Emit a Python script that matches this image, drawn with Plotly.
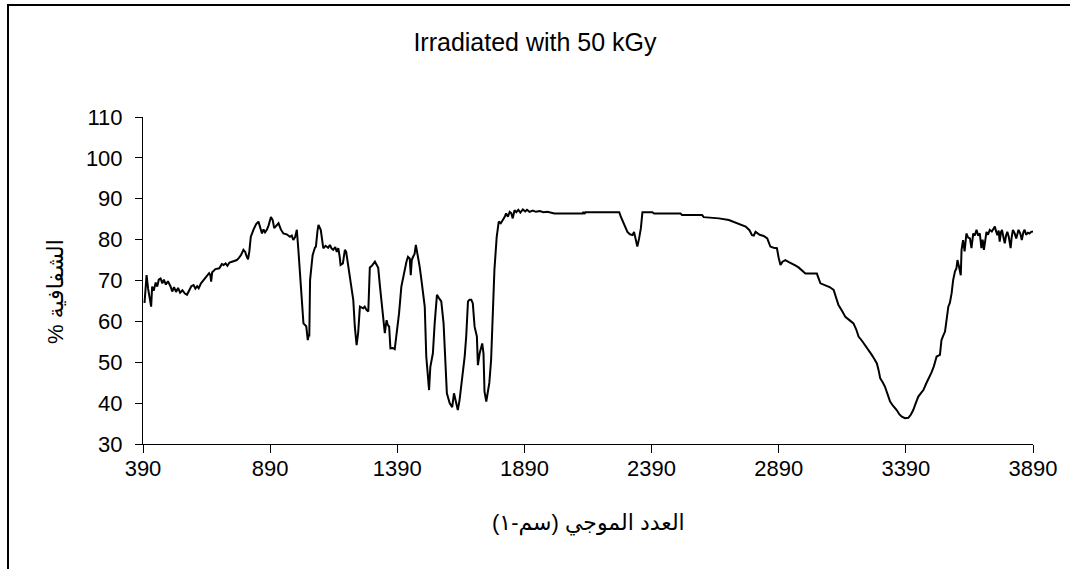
import plotly.graph_objects as go

# ---- data ----
wavenumber = [396, 400, 404, 410, 416, 422, 426, 432, 440, 446, 452, 459, 466, 472, 480, 488, 498, 505, 512, 520,
              528, 536, 545, 555, 563, 570, 580, 589, 596, 603, 609, 618, 628, 640, 650, 655, 658, 662, 675, 690,
              700, 707, 715, 722, 730, 740, 750, 759, 768, 776, 785, 792, 797, 803, 808, 814, 825, 835, 844, 852,
              858, 864, 870, 877, 884, 893, 900, 906, 914, 923, 932, 942, 955, 968, 975, 981, 988, 995, 1001, 1008,
              1014, 1021, 1032, 1038, 1042, 1044, 1047, 1057, 1066, 1070, 1076, 1080, 1089, 1095, 1099, 1108, 1118, 1125, 1132, 1138,
              1146, 1152, 1158, 1163, 1167, 1176, 1184, 1189, 1193, 1204, 1210, 1217, 1223, 1230, 1236, 1243, 1256, 1262, 1269, 1276,
              1282, 1290, 1302, 1308, 1315, 1322, 1328, 1335, 1341, 1345, 1348, 1352, 1358, 1363, 1372, 1380, 1387, 1397, 1406, 1413,
              1419, 1426, 1432, 1439, 1443, 1447, 1452, 1458, 1463, 1468, 1472, 1478, 1485, 1494, 1498, 1504, 1509, 1515, 1520, 1530,
              1537, 1546, 1554, 1563, 1572, 1580, 1585, 1596, 1606, 1613, 1619, 1628, 1635, 1646, 1655, 1661, 1668, 1674, 1681, 1687,
              1694, 1703, 1707, 1714, 1724, 1729, 1733, 1740, 1746, 1752, 1759, 1766, 1772, 1781, 1789, 1797, 1805, 1812, 1818, 1825,
              1832, 1838, 1844, 1851, 1858, 1866, 1874, 1884, 1893, 1900, 1910, 1923, 1935, 1950, 1965, 1980, 2008, 2060, 2119, 2122,
              2126, 2130, 2200, 2263, 2269, 2282, 2295, 2305, 2315, 2321, 2328, 2334, 2341, 2348, 2354, 2361, 2393, 2400, 2504, 2510,
              2589, 2595, 2655, 2694, 2727, 2760, 2775, 2785, 2792, 2799, 2815, 2831, 2845, 2851, 2857, 2870, 2883, 2890, 2897, 2905,
              2916, 2930, 2942, 2955, 2968, 2982, 2995, 3020, 3040, 3054, 3073, 3090, 3106, 3115, 3125, 3140, 3152, 3168, 3184, 3195,
              3204, 3218, 3230, 3243, 3256, 3266, 3276, 3283, 3289, 3300, 3308, 3318, 3328, 3340, 3354, 3364, 3374, 3387, 3400, 3410,
              3419, 3429, 3439, 3450, 3459, 3470, 3478, 3491, 3500, 3511, 3524, 3530, 3537, 3544, 3550, 3557, 3563, 3570, 3576, 3583,
              3589, 3593, 3599, 3606, 3609, 3615, 3621, 3628, 3635, 3642, 3648, 3655, 3661, 3668, 3674, 3681, 3687, 3692, 3697, 3702,
              3707, 3713, 3720, 3728, 3735, 3740, 3745, 3750, 3755, 3759, 3764, 3768, 3774, 3779, 3784, 3789, 3795, 3802, 3806, 3811,
              3818, 3824, 3828, 3833, 3840, 3846, 3852, 3857, 3863, 3870, 3876, 3883, 3890]

transmittance = [64.5, 68.0, 71.3, 68.0, 66.0, 63.6, 68.5, 67.5, 69.5, 68.5, 70.2, 70.5, 69.3, 70.2, 69.0, 69.8, 68.6, 67.3, 68.4, 67.2,
                 68.2, 67.0, 67.6, 66.8, 66.5, 67.3, 68.6, 68.9, 68.0, 68.6, 68.1, 69.3, 70.0, 71.0, 71.8, 71.3, 69.7, 72.0, 72.8, 73.0,
                 74.0, 73.8, 74.2, 73.6, 74.4, 74.6, 74.8, 75.0, 75.6, 76.3, 77.5, 77.0, 76.0, 75.2, 77.0, 80.7, 82.5, 83.8, 84.4, 83.0,
                 81.5, 82.5, 81.8, 82.4, 83.5, 85.5, 84.8, 82.8, 83.5, 84.0, 82.5, 81.5, 81.3, 80.7, 81.0, 79.9, 80.6, 82.4, 77.5, 72.0,
                 66.0, 59.5, 58.8, 55.4, 56.8, 56.3, 70.1, 76.2, 78.0, 78.3, 82.0, 83.6, 82.4, 80.0, 77.9, 78.5, 78.0, 78.7, 77.8, 77.5,
                 78.2, 77.0, 77.9, 76.0, 73.8, 74.2, 77.5, 77.0, 75.4, 70.9, 68.0, 65.2, 58.7, 54.2, 57.1, 63.6, 63.2, 63.6, 62.8, 62.4,
                 73.2, 73.6, 74.6, 74.0, 73.1, 68.5, 64.4, 60.5, 57.1, 59.0, 60.3, 59.2, 58.7, 53.4, 53.5, 53.2, 56.3, 62.0, 68.5, 71.0,
                 72.5, 74.6, 75.8, 75.4, 71.3, 75.0, 75.8, 76.5, 78.7, 77.0, 75.4, 73.4, 70.1, 64.4, 63.6, 51.4, 47.0, 43.2, 48.9, 52.2,
                 59.5, 66.5, 65.7, 64.9, 59.5, 48.9, 42.4, 40.0, 39.0, 42.4, 40.4, 38.3, 40.8, 46.1, 51.4, 56.3, 64.9, 65.3, 65.3, 64.4,
                 58.7, 56.3, 49.3, 52.2, 54.6, 52.2, 42.8, 40.4, 42.4, 45.0, 50.6, 60.3, 72.6, 80.7, 84.4, 84.0, 84.7, 85.5, 86.4, 85.6,
                 86.8, 86.5, 85.2, 87.2, 86.7, 87.3, 86.6, 87.4, 86.9, 87.3, 86.8, 87.1, 86.8, 87.0, 86.7, 86.8, 86.4, 86.4, 86.4, 86.8,
                 86.3, 86.7, 86.7, 86.7, 85.6, 83.6, 81.9, 81.3, 81.1, 81.9, 79.5, 78.3, 80.3, 82.8, 86.7, 86.7, 86.7, 86.4, 86.4, 86.0,
                 86.0, 85.5, 85.2, 84.8, 84.0, 83.2, 82.3, 81.1, 81.0, 81.9, 81.2, 80.9, 80.3, 79.5, 78.3, 78.0, 77.9, 75.5, 73.8, 74.6,
                 75.0, 74.5, 74.2, 73.7, 73.2, 72.5, 71.7, 71.7, 71.7, 69.3, 68.9, 68.4, 67.7, 66.0, 64.0, 62.5, 61.1, 60.3, 59.5, 58.0,
                 56.3, 55.2, 54.2, 53.0, 51.8, 50.8, 49.7, 48.0, 46.1, 45.0, 44.0, 42.2, 40.4, 39.3, 38.3, 37.3, 36.7, 36.3, 36.4, 37.2,
                 38.3, 40.0, 41.6, 42.5, 43.2, 44.8, 45.7, 47.5, 49.0, 51.4, 51.8, 55.4, 56.5, 57.5, 60.3, 63.6, 64.5, 66.9, 70.1, 72.2,
                 73.0, 75.0, 73.4, 71.3, 77.5, 79.9, 77.1, 81.5, 80.5, 80.3, 77.9, 81.5, 81.0, 82.4, 81.0, 81.5, 77.9, 80.0, 77.5, 80.5,
                 81.9, 81.2, 82.4, 82.0, 82.8, 83.2, 82.0, 81.1, 82.2, 79.5, 81.8, 82.4, 80.5, 79.1, 81.0, 81.9, 80.6, 77.9, 80.5, 82.4,
                 81.5, 80.3, 81.2, 82.4, 81.5, 79.9, 81.8, 82.4, 81.2, 81.7, 81.5, 81.9, 82.0]

x_ticks = [390, 890, 1390, 1890, 2390, 2890, 3390, 3890]
y_ticks = [30, 40, 50, 60, 70, 80, 90, 100, 110]

title_text = "Irradiated with 50 kGy"
x_title = "العدد الموجي (سم-١)"
y_title = "% الشفافية"

# ---- layout geometry (pixels) ----
W, H = 1070, 569
L, R, T, B = 143, 1033, 117, 444
FONT = "Liberation Sans, Arial, DejaVu Sans, sans-serif"


def px_x(p):
    return (p - L) / (R - L)


def px_y(p):
    return (B - p) / (B - T)


fig = go.Figure()
fig.add_trace(go.Scatter(x=wavenumber, y=transmittance, mode="lines",
                         line=dict(color="black", width=2), showlegend=False,
                         hoverinfo="x+y"))

fig.update_layout(
    width=W, height=H,
    margin=dict(l=L, r=W - R, t=T, b=H - B, pad=0),
    paper_bgcolor="white", plot_bgcolor="white",
    font=dict(family=FONT, color="black", size=22),
    title=dict(text=title_text, x=0.5, xref="container", xanchor="center",
               y=1 - 42 / H, yref="container", yanchor="middle",
               font=dict(family=FONT, size=25, color="black")),
    xaxis=dict(range=[390, 3890], tickmode="array", tickvals=x_ticks,
               ticktext=[str(v) for v in x_ticks],
               showgrid=False, zeroline=False, showline=True, linecolor="black", linewidth=1,
               ticks="outside", ticklen=8, tickcolor="black", tickwidth=1,
               ticklabelstandoff=-3,
               tickfont=dict(size=22, family=FONT, color="black")),
    yaxis=dict(range=[30, 110], tickmode="array", tickvals=y_ticks,
               ticktext=[str(v) for v in y_ticks],
               showgrid=False, zeroline=False, showline=True, linecolor="black", linewidth=1,
               ticks="outside", ticklen=7, tickcolor="black", tickwidth=1,
               ticklabelstandoff=8,
               tickfont=dict(size=22, family=FONT, color="black")),
    annotations=[
        dict(text=x_title, xref="paper", yref="paper", x=0.5, y=px_y(523),
             xanchor="center", yanchor="middle", showarrow=False,
             font=dict(family=FONT, size=22, color="black")),
        dict(text=y_title, xref="paper", yref="paper", x=px_x(55), y=px_y(292),
             xanchor="center", yanchor="middle", showarrow=False, textangle=-90,
             font=dict(family=FONT, size=22, color="black")),
    ],
    shapes=[
        dict(type="rect", xref="paper", yref="paper",
             x0=px_x(8), x1=px_x(1090), y0=px_y(590), y1=px_y(5),
             line=dict(color="black", width=2), fillcolor="rgba(0,0,0,0)", layer="above"),
    ],
)

fig.write_html("out.html")
